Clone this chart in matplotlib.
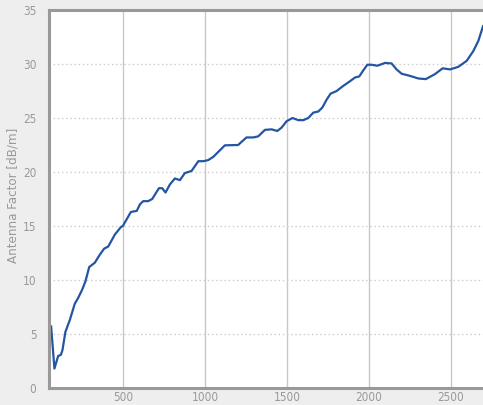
import matplotlib
matplotlib.use("Agg")
import matplotlib.pyplot as plt

freq = [63, 83, 106, 122, 132, 150, 177, 207, 228, 252, 272, 295, 329, 360, 386, 411, 451, 488, 500,
        549, 585, 604, 624, 654, 679, 720, 740, 760, 787, 817, 848, 878, 919, 960, 990, 1020, 1051,
        1081, 1122, 1203, 1224, 1254, 1295, 1325, 1366, 1407, 1441, 1467, 1498, 1534, 1569, 1600,
        1630, 1661, 1691, 1716, 1742, 1766, 1803, 1843, 1884, 1915, 1941, 1965, 1990, 2016, 2051,
        2098, 2138, 2168, 2199, 2250, 2301, 2346, 2402, 2449, 2494, 2545, 2596, 2636, 2667, 2695]
af = [5.7, 1.8, 2.97, 3.06, 3.5, 5.2, 6.3, 7.8, 8.35, 9.1, 9.87, 11.2, 11.6, 12.35, 12.9, 13.1, 14.2,
      14.9, 15.0, 16.3, 16.4, 17.0, 17.3, 17.3, 17.5, 18.5, 18.5, 18.1, 18.85, 19.4, 19.25, 19.9,
      20.1, 21.0, 21.0, 21.1, 21.4, 21.85, 22.47, 22.5, 22.8, 23.2, 23.2, 23.3, 23.9, 23.95, 23.8,
      24.1, 24.7, 25.0, 24.8, 24.8, 25.0, 25.5, 25.6, 25.97, 26.7, 27.25, 27.5, 27.97, 28.4, 28.75,
      28.85, 29.4, 29.93, 29.93, 29.84, 30.1, 30.05, 29.5, 29.1, 28.9, 28.66, 28.6, 29.06, 29.6,
      29.5, 29.74, 30.3, 31.2, 32.15, 33.5]
x_ticks = [500, 1000, 1500, 2000, 2500]
y_ticks = [0, 5, 10, 15, 20, 25, 30, 35]
y_label = "Antenna Factor [dB/m]"

plt.rcParams["font.family"] = ["DejaVu Sans"]
plt.rcParams["font.stretch"] = "condensed"

fig = plt.figure(figsize=(4.83, 4.05), dpi=100, facecolor="#EEEEEE")
ax = fig.add_axes([49/483, 1-388/405, 1-49/483, (388-10)/405])
ax.set_facecolor("white")
ax.plot(freq, af, color="#2455A3", lw=1.6, solid_joinstyle="round", clip_on=True)
ax.set_xlim(50, 2695)
ax.set_ylim(0, 35)
ax.set_xticks(x_ticks)
ax.set_yticks(y_ticks)
ax.xaxis.grid(True, color="#C8C8C8", lw=1.0, ls="-")
ax.yaxis.grid(True, color="#CCCCCC", lw=1.0, ls=(0, (1, 2)))
ax.set_axisbelow(True)
ax.tick_params(length=0, colors="#999999", labelsize=8.5)
ax.tick_params(axis="x", pad=2.5)
ax.tick_params(axis="y", pad=9)
for s in ["left", "bottom", "top"]:
    ax.spines[s].set_color("#999999")
    ax.spines[s].set_linewidth(2.2)
ax.spines["right"].set_visible(False)
ax.set_ylabel(y_label, color="#999999", fontsize=9.5)
ax.yaxis.set_label_coords(-0.068, 0.51)
fig.savefig("out.png", dpi=100, facecolor=fig.get_facecolor())
